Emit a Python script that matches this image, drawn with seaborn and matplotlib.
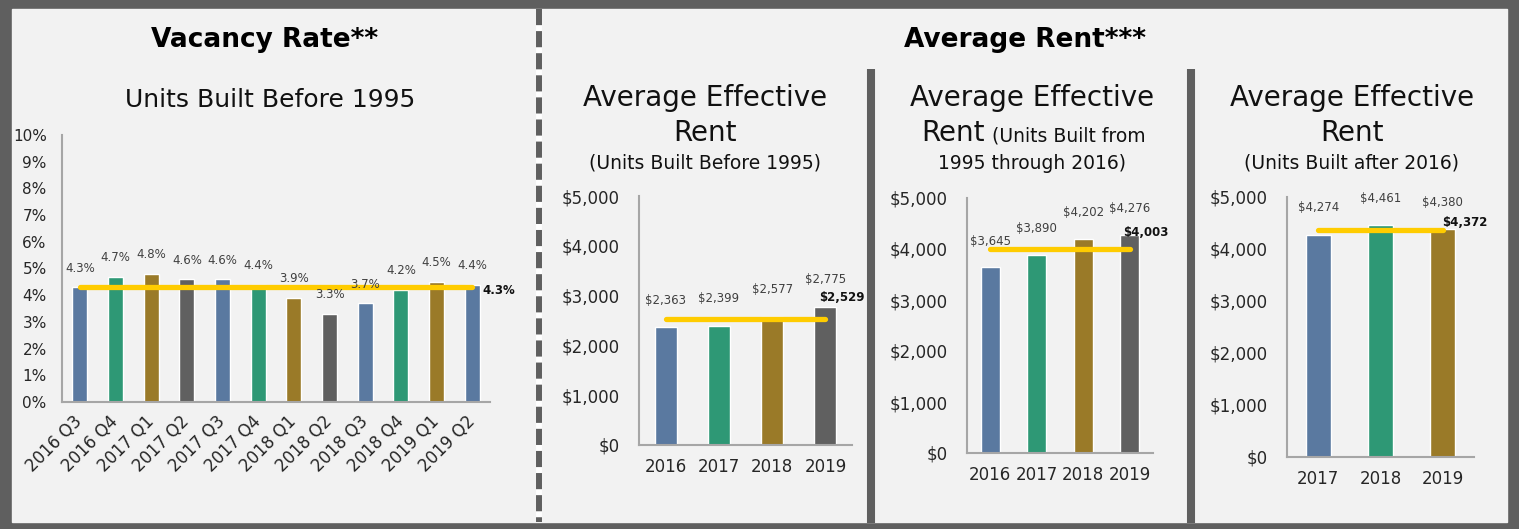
import matplotlib
matplotlib.use("Agg")
import matplotlib.pyplot as plt
import seaborn as sns
import pandas as pd
from matplotlib.patches import Rectangle
from matplotlib.lines import Line2D
from matplotlib.ticker import FuncFormatter


# ==================================
# DATA
# ==================================

vacancy_quarters = ["2016 Q3", "2016 Q4", "2017 Q1", "2017 Q2", "2017 Q3", "2017 Q4",
                    "2018 Q1", "2018 Q2", "2018 Q3", "2018 Q4", "2019 Q1", "2019 Q2"]
vacancy_rates = [4.3, 4.7, 4.8, 4.6, 4.6, 4.4, 3.9, 3.3, 3.7, 4.2, 4.5, 4.4]
vacancy_avg = 4.3

rent_old_years = ["2016", "2017", "2018", "2019"]
rent_old = [2363, 2399, 2577, 2775]
rent_old_avg = 2529

rent_mid_years = ["2016", "2017", "2018", "2019"]
rent_mid = [3645, 3890, 4202, 4276]
rent_mid_avg = 4003

rent_new_years = ["2017", "2018", "2019"]
rent_new = [4274, 4461, 4380]
rent_new_avg = 4372


# ==================================
# STYLE
# ==================================

sns.set_style("white")
plt.rcParams["font.family"] = ["DejaVu Sans"]

BLUE = "#5a79a0"
GREEN = "#2e9875"
GOLD = "#9a7a28"
GRAY = "#606060"
YELLOW = "#ffcc00"
DARK = "#5f5f5f"
LIGHT = "#f2f2f2"
AXIS = "#a6a6a6"
TEXT = "#262626"

vacancy_colors = [BLUE, GREEN, GOLD, GRAY, BLUE, GREEN, GOLD, GRAY, BLUE, GREEN, GOLD, BLUE]
rent_colors = [BLUE, GREEN, GOLD, GRAY]

W, H = 1519, 529


def fx(x):
    return x / W


def fy(y):
    return 1 - y / H


def add_axes(fig, left, top, right, bottom):
    ax = fig.add_axes([fx(left), fy(bottom), fx(right) - fx(left), fy(top) - fy(bottom)])
    ax.patch.set_alpha(0)
    return ax


def draw_panel(ax, cats, vals, colors, avg, ymax, yticks, tick_fmt, label_fmt,
               label_off, avg_off, width, rotate=False):

    df = pd.DataFrame({"cat": cats, "val": vals})

    sns.barplot(data=df, x="cat", y="val", hue="cat", palette=colors[:len(cats)],
                legend=False, width=width, saturation=1, ax=ax, zorder=2)

    n = len(cats)

    for i, v in enumerate(vals):
        ax.annotate(label_fmt(v), (i, v), xytext=(0, label_off), textcoords="offset pixels",
                    ha="center", va="center", fontsize=8.5, color="#404040", zorder=4)

    ax.plot([0, n - 1], [avg, avg], color=YELLOW, lw=3.8, solid_capstyle="round", zorder=3)
    ax.annotate(label_fmt(avg), (n - 1, avg), xytext=avg_off, textcoords="offset pixels",
                ha="center", va="center", fontsize=8.5, fontweight="bold", color="#111111",
                zorder=4)

    ax.set_ylim(0, ymax)
    ax.set_xlim(-0.5, n - 0.5)
    ax.set_yticks(yticks)
    ax.yaxis.set_major_formatter(FuncFormatter(lambda v, p: tick_fmt(v)))
    ax.set_xticks([i - 0.5 for i in range(n + 1)], minor=True)

    ax.set_xlabel("")
    ax.set_ylabel("")

    for s in ["top", "right"]:
        ax.spines[s].set_visible(False)
    for s in ["left", "bottom"]:
        ax.spines[s].set_color(AXIS)
        ax.spines[s].set_linewidth(1.5)

    ax.tick_params(axis="y", length=5, width=1.2, color=AXIS, labelsize=12,
                   labelcolor=TEXT, pad=9)
    ax.tick_params(axis="x", which="minor", length=6, width=1.2, color=AXIS)

    if rotate:
        ax.tick_params(axis="x", which="major", length=0, labelsize=12, labelcolor=TEXT, pad=12)
        plt.setp(ax.get_xticklabels(), rotation=45, ha="right", va="center",
                 rotation_mode="anchor")
    else:
        ax.tick_params(axis="x", which="major", length=0, labelsize=12, labelcolor=TEXT, pad=9)


# ==================================
# FIGURE BACKGROUND
# ==================================

fig = plt.figure(figsize=(W / 100, H / 100), dpi=100, facecolor=DARK)

fig.add_artist(Rectangle((fx(12), fy(522)), fx(1507) - fx(12), fy(9) - fy(522),
                         transform=fig.transFigure, color=LIGHT, zorder=0))

fig.add_artist(Line2D([fx(539), fx(539)], [fy(9), fy(522)], color="white", lw=4.3,
                      solid_capstyle="butt", zorder=1))
fig.add_artist(Line2D([fx(539), fx(539)], [fy(9), fy(522)], color=DARK, lw=4.3,
                      linestyle=(0, (2.7, 1.0)), dash_capstyle="butt", zorder=1))

for xpos in [871, 1191]:
    fig.add_artist(Line2D([fx(xpos), fx(xpos)], [fy(69), fy(523)], color=DARK, lw=5.8,
                          solid_capstyle="butt", zorder=1))


# ==================================
# TITLES
# ==================================

fig.text(fx(265), fy(40), "Vacancy Rate**", ha="center", va="center",
         fontsize=19, fontweight="bold", color="black")
fig.text(fx(1025), fy(40), "Average Rent***", ha="center", va="center",
         fontsize=19, fontweight="bold", color="black")

fig.text(fx(270), fy(100), "Units Built Before 1995", ha="center", va="center",
         fontsize=18, color="#111111")

fig.text(fx(705), fy(98), "Average Effective", ha="center", va="center", fontsize=20, color="#111111")
fig.text(fx(705), fy(133), "Rent", ha="center", va="center", fontsize=20, color="#111111")
fig.text(fx(705), fy(163), "(Units Built Before 1995)", ha="center", va="center",
         fontsize=13.5, color="#111111")

fig.text(fx(1032), fy(98), "Average Effective", ha="center", va="center", fontsize=20, color="#111111")
fig.text(fx(985), fy(133), "Rent", ha="right", va="center", fontsize=20, color="#111111")
fig.text(fx(992), fy(136), "(Units Built from", ha="left", va="center",
         fontsize=13.5, color="#111111")
fig.text(fx(1032), fy(163), "1995 through 2016)", ha="center", va="center",
         fontsize=13.5, color="#111111")

fig.text(fx(1352), fy(98), "Average Effective", ha="center", va="center", fontsize=20, color="#111111")
fig.text(fx(1352), fy(133), "Rent", ha="center", va="center", fontsize=20, color="#111111")
fig.text(fx(1351), fy(163), "(Units Built after 2016)", ha="center", va="center",
         fontsize=13.5, color="#111111")


# ==================================
# PANELS
# ==================================

pct = lambda v: f"{v:.0f}%"
pct1 = lambda v: f"{v:.1f}%"
usd = lambda v: f"${v:,.0f}"

ax1 = add_axes(fig, 62, 135, 490, 402)
draw_panel(ax1, vacancy_quarters, vacancy_rates, vacancy_colors, vacancy_avg,
           10, list(range(0, 11)), pct, pct1, 19, (27, -3), 0.42, rotate=True)
ax1.tick_params(axis="y", labelsize=11, pad=6)

ax2 = add_axes(fig, 639, 196, 852, 445)
draw_panel(ax2, rent_old_years, rent_old, rent_colors, rent_old_avg,
           5000, list(range(0, 5001, 1000)), usd, usd, 27, (16, 22), 0.41)

ax3 = add_axes(fig, 967, 198, 1153, 453)
draw_panel(ax3, rent_mid_years, rent_mid, rent_colors, rent_mid_avg,
           5000, list(range(0, 5001, 1000)), usd, usd, 26, (16, 16), 0.4)

ax4 = add_axes(fig, 1287, 197, 1474, 457)
draw_panel(ax4, rent_new_years, rent_new, rent_colors, rent_new_avg,
           5000, list(range(0, 5001, 1000)), usd, usd, 27, (22, 7), 0.4)

fig.savefig("out.png", dpi=100, facecolor=DARK)
